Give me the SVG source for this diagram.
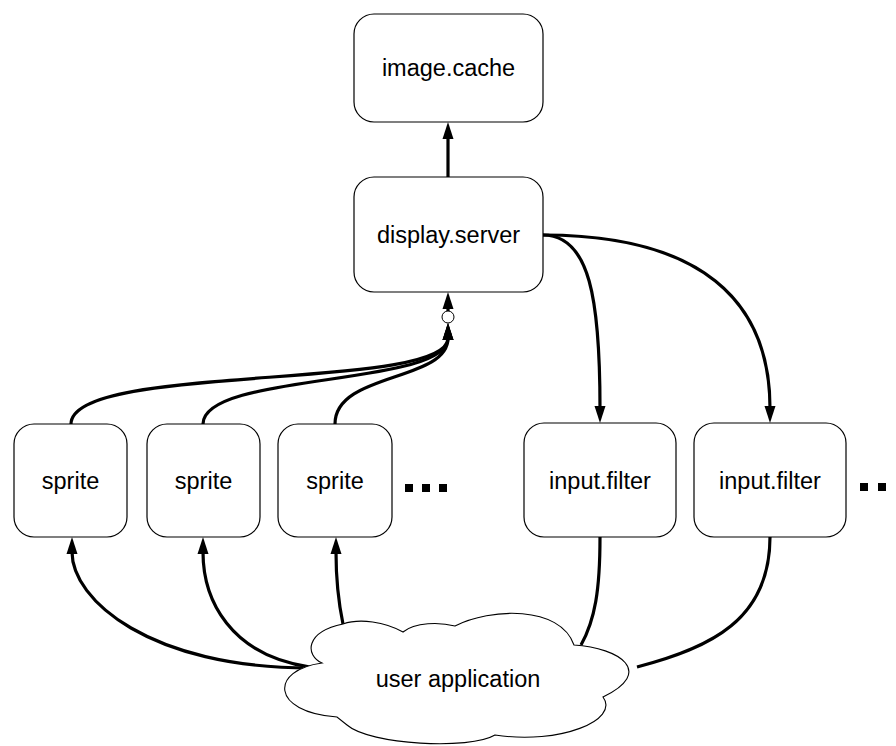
<svg xmlns="http://www.w3.org/2000/svg" width="896" height="746" viewBox="0 0 896 746">
<style>
.box{fill:#fff;stroke:#000;stroke-width:1.2}
.lbl{font-family:"Liberation Sans",Arial,sans-serif;font-size:23.5px;fill:#000;text-anchor:middle}
.edge{fill:none;stroke:#000;stroke-width:3.2}
.arr{marker-end:url(#ah)}
</style>
<defs>
<marker id="ah" markerUnits="userSpaceOnUse" markerWidth="18" markerHeight="11" refX="2" refY="5.5" orient="auto" overflow="visible">
<path d="M0,0 L17,5.5 L0,11 z" fill="#000"/>
</marker>
</defs>
<rect width="896" height="746" fill="#fff"/>
<g id="connectors">
<path class="edge arr" d="M448,177 L448,137"/>
<path class="edge arr" d="M448,311 L448,307"/>
<path class="edge arr" d="M71,424 C71,362 448,392 448,338"/>
<path class="edge arr" d="M203,424 C203,372 448,387 448,338"/>
<path class="edge arr" d="M335,424 C335,372 448,382 448,338"/>
<path class="edge arr" d="M543,235 C590,235 600,300 600,408"/>
<path class="edge arr" d="M543,235 C700,235 770,300 770,408"/>
<path class="edge arr" d="M310,668 C150,668 72,600 72,552"/>
<path class="edge arr" d="M310,667 C230,655 203,600 203,552"/>
<path class="edge arr" d="M343,624 C338,600 336,575 336,552"/>
<path class="edge" d="M600,537 C600,590 595,620 581,645"/>
<path class="edge" d="M770,537 C770,620 710,648 637,667"/>
</g>
<g id="circle-join">
<circle cx="448" cy="317" r="6" fill="#fff" stroke="#000" stroke-width="1"/>
</g>
<g id="image-cache">
<rect class="box" x="354" y="14" width="189" height="108" rx="20"/>
<text class="lbl" x="448.5" y="76">image.cache</text>
</g>
<g id="display-server">
<rect class="box" x="354" y="177" width="189" height="115" rx="20"/>
<text class="lbl" x="448.5" y="243">display.server</text>
</g>
<g id="sprite1">
<rect class="box" x="14" y="424" width="113" height="113" rx="20"/>
<text class="lbl" x="70.5" y="489">sprite</text>
</g>
<g id="sprite2">
<rect class="box" x="147" y="424" width="113" height="113" rx="20"/>
<text class="lbl" x="203.5" y="489">sprite</text>
</g>
<g id="sprite3">
<rect class="box" x="278" y="424" width="114" height="113" rx="20"/>
<text class="lbl" x="335" y="489">sprite</text>
</g>
<g id="dots-left">
<rect x="405" y="484" width="8" height="8" fill="#000"/>
<rect x="422" y="484" width="8" height="8" fill="#000"/>
<rect x="439" y="484" width="8" height="8" fill="#000"/>
</g>
<g id="input-filter1">
<rect class="box" x="524" y="423" width="152" height="114" rx="20"/>
<text class="lbl" x="600" y="489">input.filter</text>
</g>
<g id="input-filter2">
<rect class="box" x="694" y="423" width="152" height="114" rx="20"/>
<text class="lbl" x="770" y="489">input.filter</text>
</g>
<g id="dots-right">
<rect x="860" y="483" width="8" height="8" fill="#000"/>
<rect x="878" y="483" width="8" height="8" fill="#000"/>
<rect x="896" y="483" width="8" height="8" fill="#000"/>
</g>
<g id="user-application">
<path fill="#fff" stroke="#000" stroke-width="1.1" d="M322,663 C305,655 305,632 343,624 C360,618 385,622 403,632 C415,622 440,622 455,626 C490,608 560,605 574,645 C620,648 655,672 603,697 C620,720 560,745 495,735 C470,750 370,745 347,725 L337,717 C270,712 270,670 322,663 Z"/>
<text class="lbl" x="458" y="687">user application</text>
</g>
</svg>
